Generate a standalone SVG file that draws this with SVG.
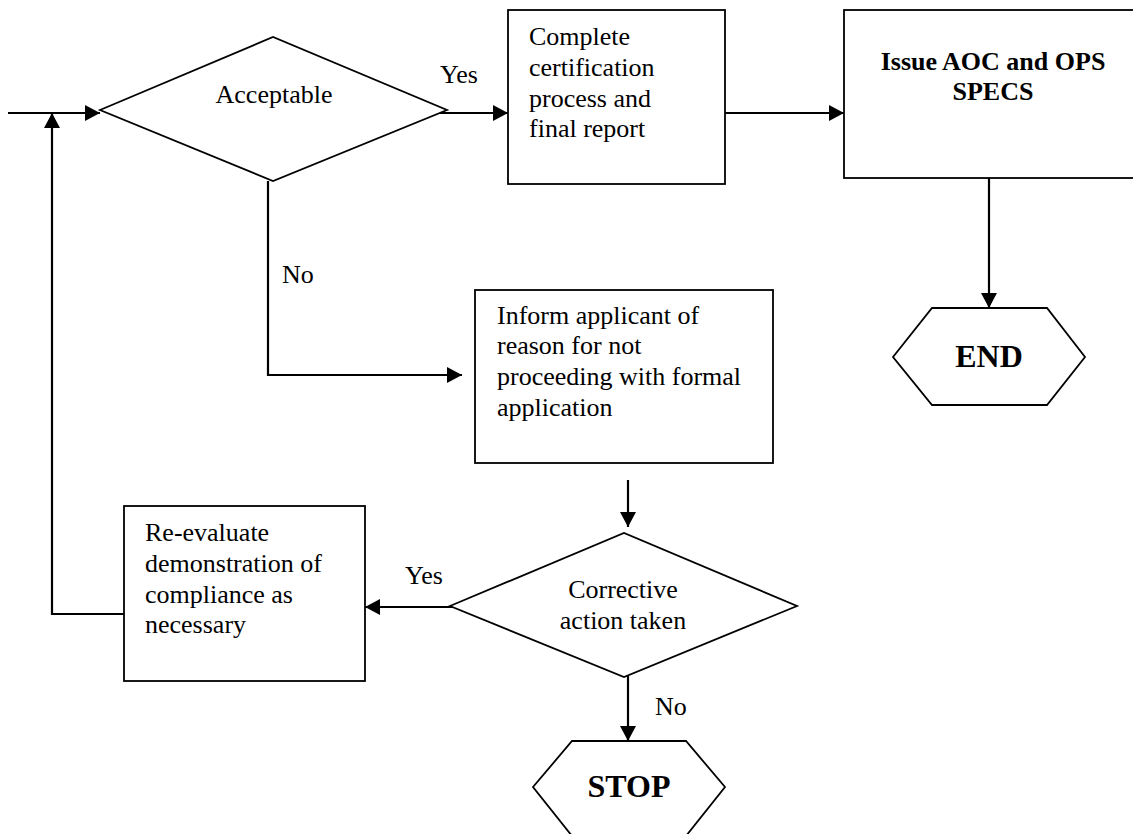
<svg xmlns="http://www.w3.org/2000/svg" width="1133" height="834" viewBox="0 0 1133 834">
<style>
.shape{fill:#fff;stroke:#000;stroke-width:1.8}
.conn{fill:none;stroke:#000;stroke-width:2.2}
.t{font-family:"Liberation Serif","Times New Roman",serif;font-size:26px;fill:#000}
.b{font-weight:bold}
.m{text-anchor:middle}
</style>
<defs>
<marker id="ah" markerUnits="userSpaceOnUse" markerWidth="16" markerHeight="18" refX="15" refY="9" orient="auto">
<path d="M0,1 L15,9 L0,17 z" fill="#000"/>
</marker>
</defs>
<rect width="1133" height="834" fill="#fff"/>
<g id="connectors">
<line class="conn" x1="8" y1="113" x2="100" y2="113" marker-end="url(#ah)"/>
<polyline class="conn" points="124,614 52,614 52,113" marker-end="url(#ah)"/>
<line class="conn" x1="440" y1="113" x2="508" y2="113" marker-end="url(#ah)"/>
<line class="conn" x1="725" y1="113" x2="844" y2="113" marker-end="url(#ah)"/>
<line class="conn" x1="989" y1="178" x2="989" y2="308" marker-end="url(#ah)"/>
<polyline class="conn" points="268,181 268,375 462,375" marker-end="url(#ah)"/>
<line class="conn" x1="628" y1="480" x2="628" y2="527" marker-end="url(#ah)"/>
<line class="conn" x1="455" y1="607" x2="365" y2="607" marker-end="url(#ah)"/>
<line class="conn" x1="628" y1="672" x2="628" y2="741" marker-end="url(#ah)"/>
<text class="t" x="440" y="83">Yes</text>
<text class="t" x="282" y="283">No</text>
<text class="t" x="405" y="584">Yes</text>
<text class="t" x="655" y="715">No</text>
</g>
<g id="acceptable">
<polygon class="shape" points="100,110 273,37 447,110 273,181"/>
<text class="t m" x="274" y="103">Acceptable</text>
</g>
<g id="complete">
<rect class="shape" x="508" y="10" width="217" height="174"/>
<text class="t" x="529" y="45">Complete</text>
<text class="t" x="529" y="76">certification</text>
<text class="t" x="529" y="107">process and</text>
<text class="t" x="529" y="137">final report</text>
</g>
<g id="issue">
<rect class="shape" x="844" y="10" width="300" height="168"/>
<text class="t b m" x="993" y="70">Issue AOC and OPS</text>
<text class="t b m" x="993" y="100">SPECS</text>
</g>
<g id="end">
<polygon class="shape" points="893,357 932,308 1047,308 1085,357 1047,405 932,405"/>
<text class="t b m" x="989" y="367" style="font-size:32px">END</text>
</g>
<g id="inform">
<rect class="shape" x="475" y="290" width="298" height="173"/>
<text class="t" x="497" y="324">Inform applicant of</text>
<text class="t" x="497" y="354">reason for not</text>
<text class="t" x="497" y="385">proceeding with formal</text>
<text class="t" x="497" y="416">application</text>
</g>
<g id="corrective">
<polygon class="shape" points="450,606 624,533 797,606 624,677"/>
<text class="t m" x="623" y="598">Corrective</text>
<text class="t m" x="623" y="629">action taken</text>
</g>
<g id="reevaluate">
<rect class="shape" x="124" y="506" width="241" height="175"/>
<text class="t" x="145" y="541">Re-evaluate</text>
<text class="t" x="145" y="572">demonstration of</text>
<text class="t" x="145" y="603">compliance as</text>
<text class="t" x="145" y="633">necessary</text>
</g>
<g id="stop">
<polygon class="shape" points="533,787 572,741 686,741 725,787 686,836 572,836"/>
<text class="t b m" x="629" y="797" style="font-size:32px">STOP</text>
</g>
</svg>
